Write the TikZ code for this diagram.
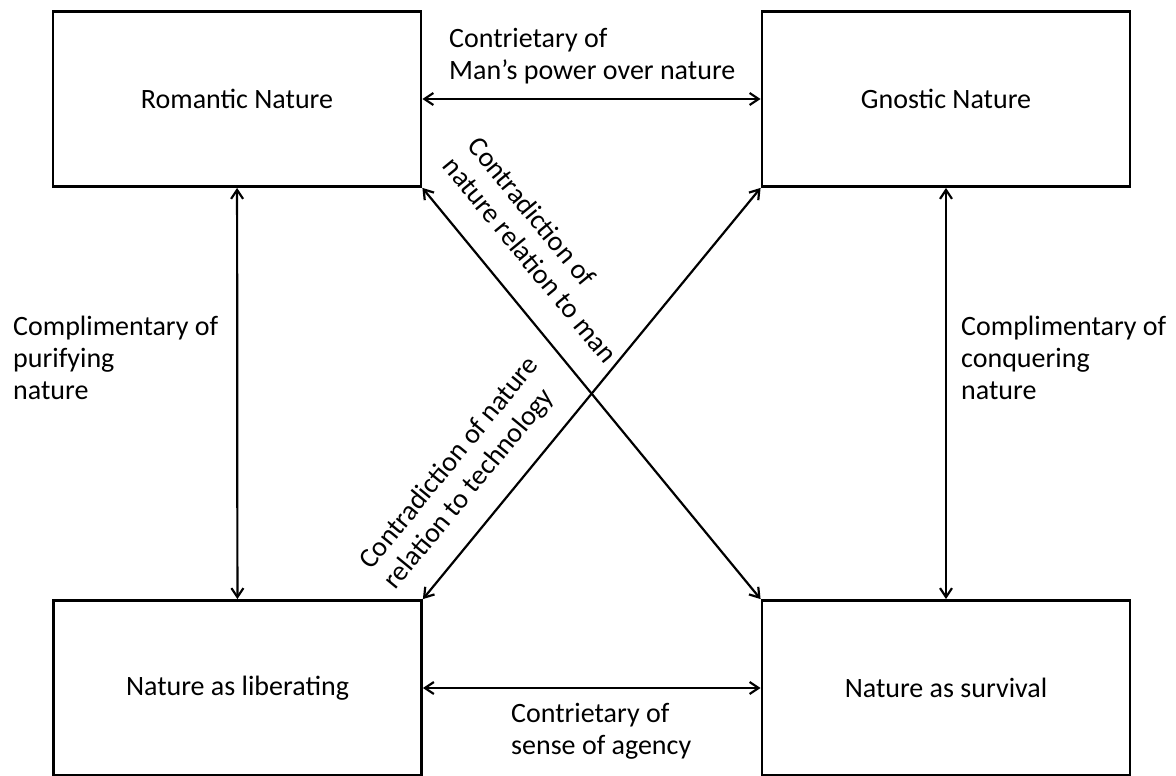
\documentclass[tikz,border=0pt]{standalone}
\usepackage{fontspec}
\setmainfont{Carlito}
\usetikzlibrary{arrows.meta,calc}

\begin{document}
\begin{tikzpicture}[x=1pt, y=-1pt,
  nbox/.style={draw, line width=2.8pt, minimum width=368pt, minimum height=175pt,
               inner sep=0pt, font=\fontsize{28}{31}\selectfont},
  lbl/.style={font=\fontsize{28}{32}\selectfont, align=left, inner sep=0pt},
  arr/.style={{Straight Barb[length=9pt,width=12pt]}-{Straight Barb[length=9pt,width=12pt]},
              line width=2.2pt}
]
\useasboundingbox (0,0) rectangle (1176,776);
\node[nbox] (rom)  at (237, 99)    {Romantic Nature};
\node[nbox] (gno)  at (946, 99)    {Gnostic Nature};
\node[nbox] (lib)  at (237.5, 688) {Nature as liberating};
\node[nbox] (surv) at (946, 688)   {Nature as survival};
\draw[arr] (rom)  -- (gno);
\draw[arr] (lib)  -- (surv);
\draw[arr] (rom)  -- (lib);
\draw[arr] (gno)  -- (surv);
\draw[arr] (rom.south east) -- (surv.north west);
\draw[arr] (lib.north east) -- (gno.south west);
\node[lbl, anchor=north west] (ltop)   at (449, 28)  {Contrietary of\\Man’s power over nature};
\node[lbl, anchor=north west] (lbot)   at (511, 703) {Contrietary of\\sense of agency};
\node[lbl, anchor=north west] (lleft)  at (13, 316)  {Complimentary of\\purifying\\nature};
\node[lbl, anchor=north west] (lright) at (961, 316) {Complimentary of\\conquering\\nature};
\coordinate (s1) at ($(rom.south east)!-4pt!(surv.north west)$);
\coordinate (s2) at ($(lib.north east)!-11pt!(gno.south west)$);
\node[lbl, rotate=-50.6, anchor=south west] (lman)
  at ($(s1)!28pt!90:(surv.north west)$) {Contradiction of\\nature relation to man};
\node[lbl, rotate=50.6, anchor=south west] (ltech)
  at ($(s2)!21pt!90:(gno.south west)$) {Contradiction of nature\\relation to technology};
\end{tikzpicture}
\end{document}
